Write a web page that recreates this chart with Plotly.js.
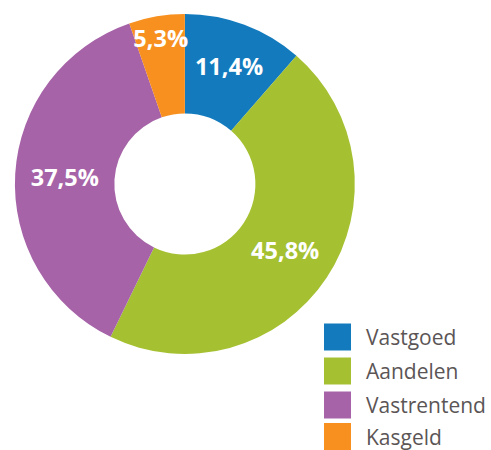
<!DOCTYPE html>
<html>
<head>
<meta charset="utf-8">
<script src="https://cdn.plot.ly/plotly-3.0.1.min.js"></script>
<style>html,body{margin:0;padding:0;background:#fff;}#chart{width:491px;height:450px;}</style>
</head>
<body>
<div id="chart"></div>
<script>
const categories = ["Vastgoed", "Aandelen", "Vastrentend", "Kasgeld"];
const values = [11.4, 45.8, 37.5, 5.3];
const labelsText = ["11,4%", "45,8%", "37,5%", "5,3%"];
const colors = ["#137bbd", "#a5c132", "#a663a8", "#f7901e"];

const trace = {
  type: "pie",
  labels: categories,
  values: values,
  text: labelsText,
  textinfo: "text",
  textposition: "inside",
  insidetextorientation: "horizontal",
  hole: 0.415,
  sort: false,
  direction: "clockwise",
  rotation: 0,
  marker: {colors: colors, line: {width: 0}},
  textfont: {family: "Open Sans", size: 23.5, color: "#ffffff", weight: 700},
  domain: {x: [15/491, 357/491], y: [(450-355)/450, (450-13)/450]},
  hoverinfo: "none"
};

const layout = {
  width: 491, height: 450,
  margin: {l: 0, r: 0, t: 0, b: 0},
  paper_bgcolor: "#ffffff",
  showlegend: true,
  legend: {
    x: 318/491, y: 0, xanchor: "left", yanchor: "bottom",
    font: {family: "Open Sans", size: 21, color: "#5b5556"},
    itemwidth: 40,
    bgcolor: "rgba(0,0,0,0)"
  }
};

Plotly.newPlot("chart", [trace], layout, {staticPlot: true, displayModeBar: false}).then(function(gd){
  // keep slice labels at full size (no shrink-to-fit)
  document.querySelectorAll(".slicetext").forEach(function(t){
    const tr = t.getAttribute("transform");
    if (tr) t.setAttribute("transform", tr.replace(/scale\([^)]*\)/, "scale(1)"));
  });
  // larger legend swatches and reference row spacing
  document.querySelectorAll(".legend [clip-path]").forEach(function(el){ el.removeAttribute("clip-path"); });
  const rowCenters = [337, 371, 405, 436.5];
  const swatchCx = 337.5;
  document.querySelectorAll(".legend .traces").forEach(function(g, i){
    const p = g.querySelector(".legendpoints path");
    if (!p) return;
    p.setAttribute("transform", "scale(2.25)");
    let r = p.getBoundingClientRect();
    const dx = swatchCx - (r.left + r.width/2);
    p.setAttribute("transform", "translate(" + dx + ",0) scale(2.25)");
    r = p.getBoundingClientRect();
    const dy = rowCenters[i] - (r.top + r.height/2);
    const m = /translate\(\s*([-\d.e]+)[ ,]+([-\d.e]+)\s*\)/.exec(g.getAttribute("transform") || "translate(0,0)");
    const gx = m ? parseFloat(m[1]) : 0, gy = m ? parseFloat(m[2]) : 0;
    g.setAttribute("transform", "translate(" + gx + "," + (gy + dy) + ")");
  });
});
</script>
</body>
</html>
